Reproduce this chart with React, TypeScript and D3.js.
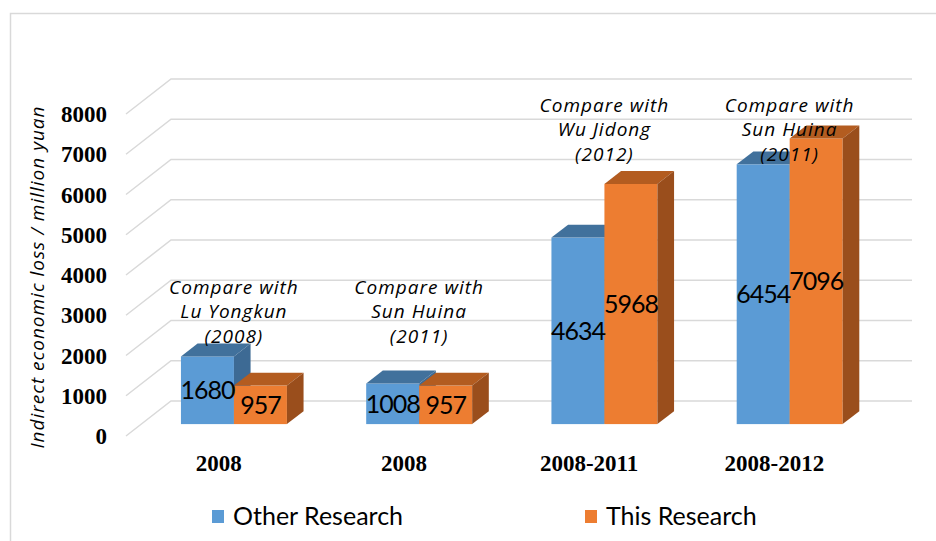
import React, { useRef, useEffect } from "react";
import * as d3 from "d3";

const categories = ["2008", "2008", "2008-2011", "2008-2012"];
const seriesNames = ["Other Research", "This Research"];
const otherResearch = [1680, 1008, 4634, 6454];
const thisResearch = [957, 957, 5968, 7096];
const compareNotes = [
  ["Compare with", "Lu Yongkun", "(2008)"],
  ["Compare with", "Sun Huina", "(2011)"],
  ["Compare with", "Wu Jidong", "(2012)"],
  ["Compare with", "Sun Huina", "(2011)"],
];
// value where the first note line sits
const noteAnchor = [3400, 3400, 7930, 7930];
const yTicks = [0, 1000, 2000, 3000, 4000, 5000, 6000, 7000, 8000];
const yTitle = "Indirect economic loss / million yuan";

const faceColors = [
  { front: "#5B9BD5", top: "#41719C", side: "#3D6A94" },
  { front: "#ED7D31", top: "#B35C20", side: "#9A4E1C" },
];

const App: React.FC = () => {
  const svgRef = useRef<SVGSVGElement | null>(null);

  useEffect(() => {
    const svg = d3.select(svgRef.current);
    const width = 936;
    const height = 541;
    svg.selectAll("*").remove();

    // depth of the 3D box: back wall is shifted by (dx, dy)
    const depthX = 45;
    const depthY = -35;
    const barD0 = 0.34;
    const barD1 = 0.71;
    const px = (x: number, d: number) => x + depthX * d;
    const py = (y: number, d: number) => y + depthY * d;

    const x = d3
      .scaleBand<number>()
      .domain(categories.map((_, i) => i))
      .range([126, 867])
      .paddingInner(0.428)
      .paddingOuter(0.214);

    const xs = d3
      .scaleBand<number>()
      .domain([0, 1])
      .range([0, x.bandwidth()]);

    const y = d3.scaleLinear().domain([0, 8000]).range([436, 114]);

    // chart frame
    svg
      .append("rect")
      .attr("x", 10.5)
      .attr("y", 13.5)
      .attr("width", width)
      .attr("height", height)
      .attr("fill", "#fff")
      .attr("stroke", "#d9d9d9")
      .attr("stroke-width", 1.5);

    // grid: diagonal on the side wall, horizontal on the back wall
    const grid = svg.append("g").attr("fill", "none").attr("stroke", "#d9d9d9").attr("stroke-width", 1.5);
    const [x0, x1] = x.range();
    grid
      .selectAll("path")
      .data(yTicks)
      .join("path")
      .attr("d", (t) => `M${x0},${y(t)} L${px(x0, 1)},${py(y(t), 1)} L${px(x1, 1)},${py(y(t), 1)}`);

    // y tick labels
    svg
      .append("g")
      .selectAll("text")
      .data(yTicks)
      .join("text")
      .attr("x", x0 - 19)
      .attr("y", (t) => y(t))
      .attr("dy", "0.35em")
      .attr("text-anchor", "end")
      .attr("font-family", "'Liberation Serif', 'Times New Roman', serif")
      .attr("font-weight", "bold")
      .attr("font-size", 23)
      .text((t) => t);

    // y title
    svg
      .append("text")
      .attr("transform", `translate(37,277) rotate(-90)`)
      .attr("text-anchor", "middle")
      .attr("dy", "0.35em")
      .attr("font-family", "'Open Sans', sans-serif")
      .attr("font-style", "italic")
      .attr("font-size", 19)
      .attr("letter-spacing", 1)
      .text(yTitle);

    // bars
    const bars = svg.append("g");
    categories.forEach((_, i) => {
      [otherResearch[i], thisResearch[i]].forEach((v, s) => {
        const c = faceColors[s];
        const left = px((x(i) ?? 0) + (xs(s) ?? 0), barD0);
        const right = left + xs.bandwidth();
        const top = py(y(v), barD0);
        const bottom = py(y(0), barD0);
        const ddx = depthX * (barD1 - barD0);
        const ddy = depthY * (barD1 - barD0);
        bars
          .append("rect")
          .attr("x", left)
          .attr("y", top)
          .attr("width", right - left)
          .attr("height", bottom - top)
          .attr("fill", c.front);
        bars
          .append("path")
          .attr("d", `M${left},${top} L${left + ddx},${top + ddy} L${right + ddx},${top + ddy} L${right},${top} Z`)
          .attr("fill", c.top);
        bars
          .append("path")
          .attr("d", `M${right},${top} L${right + ddx},${top + ddy} L${right + ddx},${bottom + ddy} L${right},${bottom} Z`)
          .attr("fill", c.side);
      });
    });

    // value labels
    const labels = svg.append("g");
    categories.forEach((_, i) => {
      [otherResearch[i], thisResearch[i]].forEach((v, s) => {
        const cx = px((x(i) ?? 0) + (xs(s) ?? 0) + xs.bandwidth() / 2, barD0);
        const cy = py((y(v) + y(0)) / 2, barD0);
        labels
          .append("text")
          .attr("x", cx)
          .attr("y", cy)
          .attr("dy", "0.35em")
          .attr("text-anchor", "middle")
          .attr("font-family", "Lato, 'Open Sans', sans-serif")
          .attr("font-size", 25)
          .attr("letter-spacing", -1)
          .attr("fill", "#000")
          .text(v);
      });
    });

    // category labels
    svg
      .append("g")
      .selectAll("text")
      .data(categories)
      .join("text")
      .attr("x", (_, i) => (x(i) ?? 0) + x.bandwidth() / 2)
      .attr("y", 463)
      .attr("dy", "0.35em")
      .attr("text-anchor", "middle")
      .attr("font-family", "'Liberation Serif', 'Times New Roman', serif")
      .attr("font-weight", "bold")
      .attr("font-size", 23)
      .text((d) => d);

    // comparison notes
    const notes = svg.append("g");
    compareNotes.forEach((lines, i) => {
      const cx = px((x(i) ?? 0) + x.bandwidth() / 2, barD0);
      const cy = py(y(noteAnchor[i]), barD0);
      lines.forEach((line, k) => {
        notes
          .append("text")
          .attr("x", cx)
          .attr("y", cy + k * 24.5)
          .attr("dy", "0.35em")
          .attr("text-anchor", "middle")
          .attr("font-family", "'Open Sans', sans-serif")
          .attr("font-style", "italic")
          .attr("font-size", 19)
          .attr("letter-spacing", 1)
          .text(line);
      });
    });

    // legend
    const legendX = [212, 585];
    const legend = svg.append("g");
    seriesNames.forEach((name, s) => {
      legend
        .append("rect")
        .attr("x", legendX[s])
        .attr("y", 510)
        .attr("width", 12)
        .attr("height", 13)
        .attr("fill", faceColors[s].front);
      legend
        .append("text")
        .attr("x", legendX[s] + 21)
        .attr("y", 516)
        .attr("dy", "0.35em")
        .attr("font-family", "Lato, 'Open Sans', sans-serif")
        .attr("font-size", 25)
        .text(name);
    });
  }, []);

  return (
    <div>
      <svg
        ref={svgRef}
        width="936"
        height="541"
        style={{ position: "absolute", left: 0, top: 0, background: "#fff" }}
      />
    </div>
  );
};

export default App;
